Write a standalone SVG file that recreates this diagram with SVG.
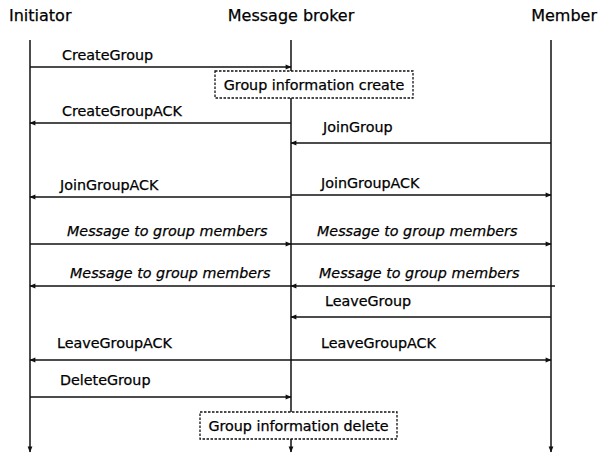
<svg xmlns="http://www.w3.org/2000/svg" width="598" height="454" viewBox="0 0 598 454">
<style>
text{font-family:"DejaVu Sans","Liberation Sans",sans-serif;font-size:14.3px;fill:#000;stroke:#000;stroke-width:0.25}
.h{font-size:16px}
.i{font-style:italic}
.life{stroke:#111;stroke-width:1.5;fill:none}
.msg{stroke:#111;stroke-width:1.3;fill:none}
.box{fill:#fff;stroke:#111;stroke-width:1.3;stroke-dasharray:2.5 1.5}
</style>
<defs>
<marker id="ah" viewBox="0 0 10 10" refX="9" refY="5" markerWidth="7" markerHeight="6" orient="auto" markerUnits="userSpaceOnUse"><path d="M0,1 L10,5 L0,9 z" fill="#111"/></marker>
</defs>
<g id="initiator"><text class="h" x="9" y="21">Initiator</text><line class="life" x1="30" y1="40" x2="30" y2="452" marker-end="url(#ah)"/></g>
<g id="broker"><text class="h" x="291" y="21" text-anchor="middle">Message broker</text><line class="life" x1="291" y1="40" x2="291" y2="452" marker-end="url(#ah)"/></g>
<g id="member"><text class="h" x="597" y="21" text-anchor="end">Member</text><line class="life" x1="551" y1="40" x2="551" y2="452" marker-end="url(#ah)"/></g>
<g id="create-box"><rect class="box" x="215" y="71" width="198" height="27"/><text x="314" y="90" text-anchor="middle">Group information create</text></g>
<g id="delete-box"><rect class="box" x="200" y="412" width="197" height="27"/><text x="298.5" y="431" text-anchor="middle">Group information delete</text></g>
<g id="connectors">
<line class="msg" x1="30" y1="67" x2="291" y2="67" marker-end="url(#ah)"/><text x="62" y="60">CreateGroup</text>
<line class="msg" x1="291" y1="123" x2="30" y2="123" marker-end="url(#ah)"/><text x="62" y="116">CreateGroupACK</text>
<line class="msg" x1="551" y1="143" x2="291" y2="143" marker-end="url(#ah)"/><text x="323" y="132">JoinGroup</text>
<line class="msg" x1="291" y1="197" x2="30" y2="197" marker-end="url(#ah)"/><text x="60" y="190">JoinGroupACK</text>
<line class="msg" x1="291" y1="195" x2="551" y2="195" marker-end="url(#ah)"/><text x="321" y="188">JoinGroupACK</text>
<line class="msg" x1="30" y1="244" x2="291" y2="244" marker-end="url(#ah)"/><text class="i" x="67" y="236">Message to group members</text>
<line class="msg" x1="291" y1="244" x2="551" y2="244" marker-end="url(#ah)"/><text class="i" x="317" y="236">Message to group members</text>
<line class="msg" x1="291" y1="286" x2="30" y2="286" marker-end="url(#ah)"/><text class="i" x="70" y="278">Message to group members</text>
<line class="msg" x1="555" y1="286" x2="291" y2="286" marker-end="url(#ah)"/><text class="i" x="319" y="278">Message to group members</text>
<line class="msg" x1="551" y1="317" x2="291" y2="317" marker-end="url(#ah)"/><text x="325" y="306">LeaveGroup</text>
<line class="msg" x1="291" y1="360" x2="30" y2="360" marker-end="url(#ah)"/><text x="57" y="348">LeaveGroupACK</text>
<line class="msg" x1="291" y1="360" x2="551" y2="360" marker-end="url(#ah)"/><text x="321" y="348">LeaveGroupACK</text>
<line class="msg" x1="30" y1="397" x2="291" y2="397" marker-end="url(#ah)"/><text x="60" y="385">DeleteGroup</text>
</g>
</svg>
